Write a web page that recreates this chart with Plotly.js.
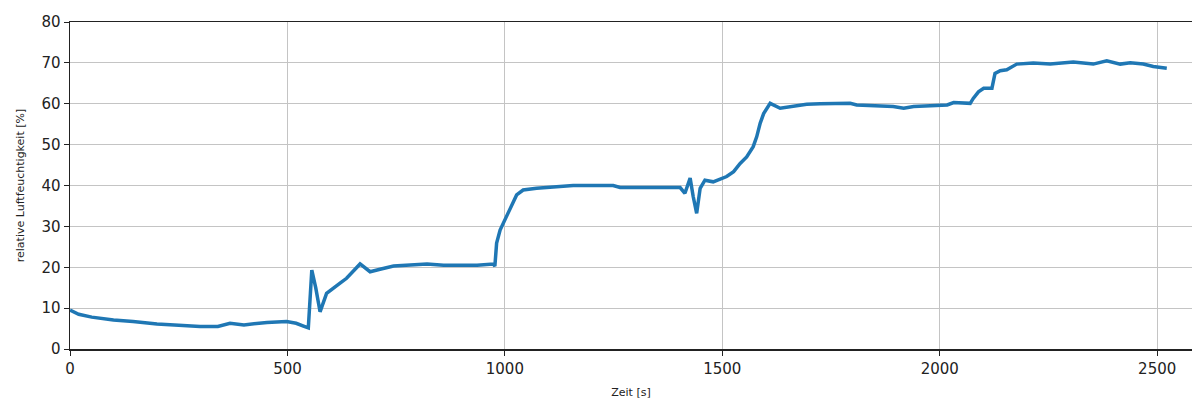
<!DOCTYPE html>
<html>
<head>
<meta charset="utf-8">
<script src="https://cdn.plot.ly/plotly-3.0.1.min.js"></script>
<style>html,body{margin:0;padding:0;background:#fff;}#chart{width:1192px;height:401px;}</style>
</head>
<body>
<div id="chart"></div>
<script>
const zeit = [0, 20, 50, 100, 145, 200, 250, 299, 340, 368, 400, 453, 498, 520, 540, 548,
  556, 565, 575, 590, 621, 636, 667, 690, 713, 744, 821, 859, 936, 973, 977,
  981, 989, 1000, 1012, 1027, 1042, 1073, 1157, 1249, 1265, 1403, 1414, 1426, 1433, 1441,
  1449, 1460, 1479, 1510, 1526, 1541, 1556, 1571, 1579, 1587, 1595, 1610, 1633, 1656,
  1694, 1725, 1794, 1809, 1893, 1917, 1940, 2017, 2032, 2070, 2077, 2089, 2101, 2120,
  2127, 2139, 2154, 2177, 2215, 2254, 2292, 2307, 2353, 2384, 2415, 2438, 2468, 2491, 2522];
const feuchte = [9.5, 8.5, 7.8, 7.1, 6.7, 6.1, 5.8, 5.5, 5.5, 6.3, 5.9, 6.5, 6.7, 6.3, 5.5, 5.2,
  19.3, 15.0, 9.1, 13.6, 16.1, 17.3, 20.8, 18.9, 19.5, 20.3, 20.8, 20.5, 20.5, 20.8, 20.3,
  25.9, 29.1, 31.6, 34.0, 37.7, 38.9, 39.3, 40.0, 40.0, 39.5, 39.5, 38.1, 41.8, 37.3, 33.2,
  39.3, 41.3, 40.9, 42.2, 43.4, 45.4, 47.0, 49.5, 51.9, 55.2, 57.6, 60.1, 58.9, 59.3,
  59.9, 60.0, 60.1, 59.7, 59.3, 58.9, 59.3, 59.7, 60.3, 60.1, 61.3, 62.9, 63.8, 63.8,
  67.4, 68.1, 68.3, 69.7, 70.0, 69.7, 70.0, 70.2, 69.7, 70.5, 69.7, 70.0, 69.7, 69.1, 68.7];
const xTicks = [0, 500, 1000, 1500, 2000, 2500];
const yTicks = [0, 10, 20, 30, 40, 50, 60, 70, 80];

const trace = {
  x: zeit, y: feuchte, type: 'scatter', mode: 'lines',
  line: {color: '#1f77b4', width: 3.5},
  hoverinfo: 'skip'
};
const tickFont = {family: 'DejaVu Sans, sans-serif', size: 15, color: '#222'};
const layout = {
  width: 1192, height: 401,
  margin: {l: 70, r: 0, t: 22, b: 52},
  paper_bgcolor: '#fff', plot_bgcolor: '#fff',
  showlegend: false,
  xaxis: {
    range: [0, 2580], tickvals: xTicks, ticktext: xTicks.map(String),
    showgrid: true, gridcolor: '#c4c4c4', gridwidth: 1.2,
    zeroline: false, showline: true, linecolor: '#222', linewidth: 1.5, mirror: true,
    ticks: 'outside', ticklen: 5, tickcolor: '#222', tickfont: tickFont,
    title: {text: 'Zeit [s]', font: {family: 'DejaVu Sans, sans-serif', size: 11, color: '#222'}, standoff: 12}
  },
  yaxis: {
    range: [0, 80], tickvals: yTicks, ticktext: yTicks.map(String),
    showgrid: true, gridcolor: '#c4c4c4', gridwidth: 1.2,
    zeroline: false, showline: true, linecolor: '#222', linewidth: 1.5,
    ticks: 'outside', ticklen: 5, tickcolor: '#222', tickfont: tickFont,
    title: {text: 'relative Luftfeuchtigkeit [%]', font: {family: 'DejaVu Sans, sans-serif', size: 11, color: '#222'}, standoff: 14}
  }
};
Plotly.newPlot('chart', [trace], layout, {displayModeBar: false, staticPlot: true});
</script>
</body>
</html>
